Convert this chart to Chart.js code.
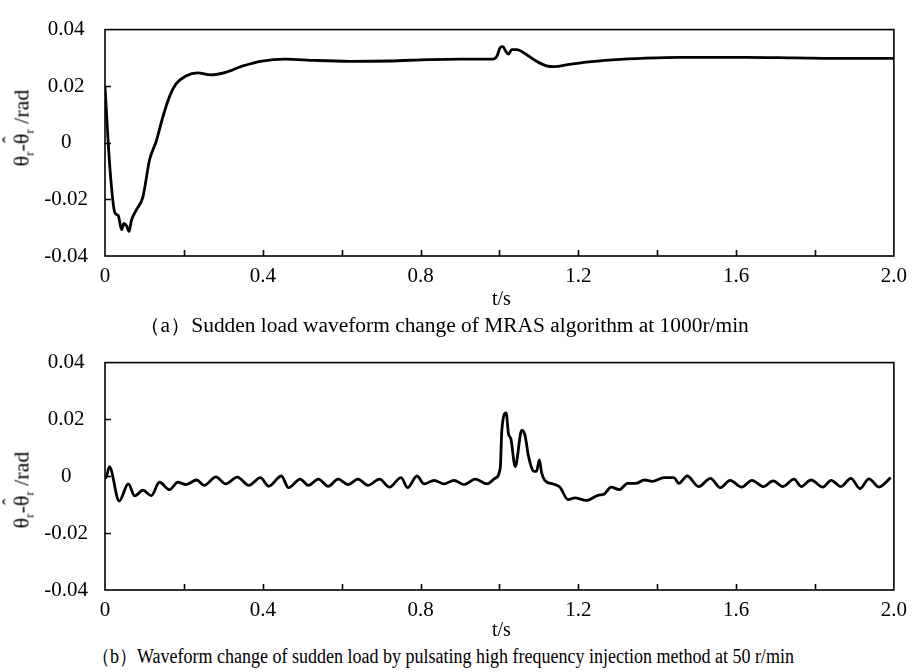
<!DOCTYPE html>
<html>
<head>
<meta charset="utf-8">
<script src="https://cdn.jsdelivr.net/npm/chart.js@4.4.1/dist/chart.umd.min.js"></script>
<style>
  body { margin: 0; background: #fff; width: 915px; height: 672px; position: relative; overflow: hidden;
         font-family: "Liberation Serif", "Times New Roman", Tinos, "DejaVu Serif", serif; color: #000; }
  canvas { position: absolute; left: 0; }
  .txt { position: absolute; white-space: nowrap; font-size: 20px; transform-origin: 0 50%; }
  .ylab { position: absolute; white-space: nowrap; font-size: 22px; transform: translate(-50%, -50%) rotate(-90deg); }
  .ylab sub { font-size: 13px; vertical-align: -5px; }
  .hat { position: relative; display: inline-block; }
  .hat i { position: absolute; left: 1px; top: -9px; font-style: normal; font-size: 20px; }
</style>
</head>
<body>
<canvas id="chartA" width="915" height="292" style="top:0"></canvas>
<canvas id="chartB" width="915" height="292" style="top:333px"></canvas>

<div class="ylab" style="left:23px; top:128px">θ<sub>r</sub>-<span class="hat">θ<i>ˆ</i></span><sub>r</sub> /rad</div>
<div class="ylab" style="left:23px; top:490px">θ<sub>r</sub>-<span class="hat">θ<i>ˆ</i></span><sub>r</sub> /rad</div>
<div class="txt" style="left:492px; top:287px">t/s</div>
<div class="txt" style="left:139px; top:312px; transform:scaleX(1.07)">（a）Sudden load waveform change of MRAS algorithm at 1000r/min</div>
<div class="txt" style="left:92px; top:643px; transform:scaleX(0.9)">（b）Waveform change of sudden load by pulsating high frequency injection method at 50 r/min</div>
<div class="txt" style="left:492px; top:618px">t/s</div>

<script>
// (a) MRAS, 1000 r/min
const timeA = [0, 0.0126, 0.025, 0.0335, 0.042, 0.048, 0.0545, 0.061, 0.067, 0.08, 0.096, 0.113, 0.13, 0.147,
  0.164, 0.18, 0.205, 0.235, 0.268, 0.306, 0.348, 0.398, 0.457, 0.533, 0.62, 0.72, 0.82, 0.9, 0.985, 0.994,
  1.002, 1.009, 1.015, 1.023, 1.031, 1.044, 1.069, 1.094, 1.119, 1.14, 1.17, 1.22, 1.287, 1.371, 1.455,
  1.539, 1.623, 1.75, 1.88, 2.0];
const errA = [0.0198, -0.0092, -0.0247, -0.0257, -0.0307, -0.0285, -0.0293, -0.0313, -0.0274, -0.0236,
  -0.0192, -0.006, 0.0006, 0.0093, 0.0165, 0.0208, 0.0236, 0.0247, 0.024, 0.0249, 0.0271, 0.0289, 0.0296,
  0.0291, 0.0288, 0.0289, 0.0294, 0.0296, 0.0296, 0.0307, 0.0337, 0.034, 0.0326, 0.0313, 0.0329, 0.0329,
  0.0311, 0.0288, 0.0272, 0.0269, 0.0275, 0.0285, 0.0293, 0.0299, 0.0302, 0.0302, 0.0302, 0.03, 0.0298, 0.0298];

// (b) pulsating HF injection, 50 r/min
const timeB = [0, 0.0025, 0.011, 0.036, 0.059, 0.0755, 0.0964, 0.1174, 0.138, 0.1635, 0.1845, 0.2055, 0.2323,
  0.2516, 0.281, 0.306, 0.3354, 0.3648, 0.394, 0.415, 0.447, 0.4654, 0.4948, 0.5157, 0.541, 0.566, 0.591,
  0.6164, 0.6415, 0.6667, 0.696, 0.7212, 0.7505, 0.7673, 0.7908, 0.8092, 0.8344, 0.8595, 0.8847, 0.91,
  0.939, 0.9686, 0.989, 1.002, 1.006, 1.017, 1.023, 1.029, 1.04, 1.0566, 1.065, 1.0735, 1.086, 1.094, 1.101,
  1.107, 1.115, 1.136, 1.153, 1.174, 1.191, 1.22, 1.2495, 1.266, 1.283, 1.304, 1.325, 1.346, 1.367, 1.388,
  1.417, 1.442, 1.455, 1.476, 1.505, 1.535, 1.56, 1.585, 1.614, 1.64, 1.669, 1.694, 1.719, 1.747, 1.765,
  1.79, 1.82, 1.841, 1.866, 1.891, 1.914, 1.937, 1.962, 1.992];
const errB = [0.0, -0.0005, 0.0034, -0.0087, -0.0027, -0.0069, -0.0049, -0.0068, -0.0021, -0.0047, -0.0021,
  -0.0029, -0.0013, -0.0032, -0.0002, -0.0027, -0.0003, -0.0032, -0.0005, -0.0035, 0.0001, -0.004, -0.001,
  -0.0032, -0.001, -0.0035, -0.001, -0.0029, -0.001, -0.0032, -0.001, -0.0038, -0.0005, -0.004, 0.0001,
  -0.0027, -0.0014, -0.0027, -0.0014, -0.0029, -0.001, -0.0027, -0.0007, 0.0028, 0.016, 0.0223, 0.0149,
  0.0132, 0.0034, 0.0162, 0.0143, 0.0072, 0.0019, 0.0017, 0.0058, 0.0012, -0.0014, -0.0027, -0.0038,
  -0.0082, -0.0076, -0.0085, -0.0067, -0.0062, -0.0038, -0.0047, -0.0025, -0.0025, -0.0013, -0.0018,
  -0.0005, -0.0005, -0.0025, 0.0001, -0.0036, -0.0007, -0.004, -0.0014, -0.0038, -0.0014, -0.0036,
  -0.0016, -0.0036, -0.001, -0.0036, -0.0013, -0.0038, -0.0014, -0.0036, -0.0007, -0.0043, -0.0009,
  -0.0038, -0.0005];

const xTicks = [0, 0.4, 0.8, 1.2, 1.6, 2.0];
const yTicks = [-0.04, -0.02, 0, 0.02, 0.04];

const tickFont = { family: '"Liberation Serif", "Times New Roman", Tinos, "DejaVu Serif", serif', size: 21 };

// box around plot area + inward tick marks
const boxTicks = {
  id: 'boxTicks',
  afterDatasetsDraw(chart) {
    const { ctx, chartArea: a, scales } = chart;
    ctx.save();
    ctx.strokeStyle = '#000';
    ctx.lineWidth = 1.6;
    ctx.strokeRect(a.left, a.top, a.right - a.left, a.bottom - a.top);
    ctx.beginPath();
    scales.x.ticks.forEach(t => {
      if (t.value <= scales.x.min + 1e-9 || t.value >= scales.x.max - 1e-9) return;
      const x = Math.round(scales.x.getPixelForValue(t.value)) + 0.5;
      ctx.moveTo(x, a.bottom);
      ctx.lineTo(x, a.bottom - 6);
    });
    scales.y.ticks.forEach(t => {
      if (t.value <= scales.y.min + 1e-9 || t.value >= scales.y.max - 1e-9) return;
      const y = Math.round(scales.y.getPixelForValue(t.value)) + 0.5;
      ctx.moveTo(a.left, y);
      ctx.lineTo(a.left + 6, y);
    });
    ctx.stroke();
    ctx.restore();
  }
};

function makeChart(id, times, errs, plotBottom) {
  const pts = times.map((t, i) => ({ x: t, y: errs[i] }));
  return new Chart(document.getElementById(id), {
    type: 'line',
    data: { datasets: [{ data: pts, borderColor: '#000', borderWidth: 2.8, pointRadius: 0,
      cubicInterpolationMode: 'monotone', fill: false }] },
    options: {
      responsive: false,
      animation: false,
      devicePixelRatio: 1,
      layout: { padding: { left: 0, right: 16, top: 14, bottom: 0 } },
      plugins: { legend: { display: false }, tooltip: { enabled: false } },
      scales: {
        x: {
          type: 'linear', min: 0, max: 2,
          grid: { display: false, drawTicks: false },
          border: { display: false },
          afterFit(s) { s.height = 292 - plotBottom; },
          ticks: {
            stepSize: 0.2, padding: 8, color: '#000', font: tickFont, maxRotation: 0, autoSkip: false,
            callback(v) {
              const hit = xTicks.find(k => Math.abs(k - v) < 1e-6);
              if (hit === undefined) return '';
              return hit === 0 ? '0' : hit.toFixed(1);
            }
          }
        },
        y: {
          min: -0.04, max: 0.04,
          grid: { display: false, drawTicks: false },
          border: { display: false },
          afterFit(s) { s.width = 105; },
          ticks: {
            stepSize: 0.02, padding: 17, crossAlign: 'center', color: '#000', font: tickFont,
            callback(v) {
              const hit = yTicks.find(k => Math.abs(k - v) < 1e-9);
              if (hit === undefined) return '';
              return hit === 0 ? '0' : hit.toFixed(2);
            }
          }
        }
      }
    },
    plugins: [boxTicks]
  });
}

makeChart('chartA', timeA, errA, 256);
makeChart('chartB', timeB, errB, 257);
</script>
</body>
</html>
